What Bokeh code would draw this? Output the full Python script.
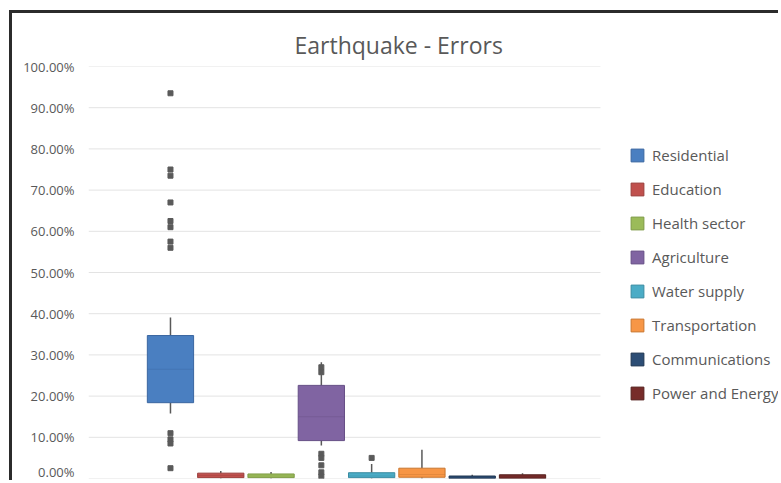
from bokeh.plotting import figure
from bokeh.models import (Range1d, Legend, LegendItem, NumeralTickFormatter,
                          FixedTicker, ColumnDataSource)
from bokeh.embed import file_html
from bokeh.resources import INLINE

# ---- data (fractions) ----
categories = ["Residential", "Education", "Health sector", "Agriculture",
              "Water supply", "Transportation", "Communications", "Power and Energy"]
colors = ["#4A7FC1", "#C0504D", "#9BBB59", "#8064A2",
          "#4BACC6", "#F79646", "#2C4D75", "#772C2A"]
edge_colors = ["#3A66A0", "#9A3E3B", "#7D9A45", "#654E85",
               "#3A8BA1", "#C9762F", "#1E3550", "#55201E"]
lower_whisker = [0.158, 0.000, 0.000, 0.080, 0.000, 0.000, 0.000, 0.000]
q1 = [0.184, 0.002, 0.002, 0.092, 0.002, 0.003, 0.000, 0.000]
median = [0.265, 0.007, 0.006, 0.150, 0.006, 0.010, 0.002, 0.003]
q3 = [0.347, 0.013, 0.011, 0.226, 0.014, 0.025, 0.006, 0.009]
upper_whisker = [0.391, 0.018, 0.016, 0.282, 0.035, 0.070, 0.009, 0.013]
outliers = {
    "Residential": [0.935, 0.750, 0.735, 0.670, 0.625, 0.610, 0.575, 0.560,
                    0.110, 0.095, 0.085, 0.025],
    "Education": [],
    "Health sector": [],
    "Agriculture": [0.270, 0.258, 0.060, 0.050, 0.032, 0.015, 0.005],
    "Water supply": [0.050],
    "Transportation": [],
    "Communications": [],
    "Power and Energy": [],
}
y_ticks = [0.0, 0.1, 0.2, 0.3, 0.4, 0.5, 0.6, 0.7, 0.8, 0.9, 1.0]

FONT = "Open Sans"
TEXT = "#595959"

xs = list(range(len(categories)))
x_lo, x_hi = -1.63, len(categories) + 0.55     # plot-area extent (in category slots)

p = figure(x_range=Range1d(x_lo, 12.09), y_range=Range1d(0, 1.0),
           width=769, height=470,
           min_border_left=76, min_border_bottom=5, min_border_top=53, min_border_right=3,
           output_backend="svg", toolbar_location=None,
           title="Earthquake - Errors")
p.styles = {"margin-left": "9px", "margin-top": "10px",
            "border-top": "3px solid #2b2b2b", "border-left": "3px solid #2b2b2b"}

p.title.align = "left"
p.title.vertical_align = "top"
p.title.offset = 206
p.title.text_font = FONT
p.title.text_font_size = "23px"
p.title.text_font_style = "normal"
p.title.text_color = TEXT
p.title.standoff = 8

p.background_fill_color = "white"
p.border_fill_color = "white"
p.outline_line_color = None

p.xaxis.visible = False
p.xgrid.visible = False
p.ygrid.visible = False

p.yaxis.ticker = FixedTicker(ticks=y_ticks)
p.yaxis.formatter = NumeralTickFormatter(format="0.00%")
p.yaxis.axis_line_color = None
p.yaxis.major_tick_line_color = None
p.yaxis.minor_tick_line_color = None
p.yaxis.major_label_text_font = FONT
p.yaxis.major_label_text_font_size = "13px"
p.yaxis.major_label_text_color = TEXT
p.yaxis.major_label_standoff = 8

# horizontal gridlines limited to the plot area
p.segment(x0=[x_lo] * len(y_ticks), x1=[x_hi] * len(y_ticks), y0=y_ticks, y1=y_ticks,
          line_color="#e3e3e3", line_width=1)

src = ColumnDataSource(dict(x=xs, cat=categories, color=colors, edge=edge_colors,
                            lw=lower_whisker, q1=q1, med=median, q3=q3, uw=upper_whisker))

# whiskers
p.segment(x0="x", y0="q3", x1="x", y1="uw", source=src, line_color="#595959", line_width=1.5)
p.segment(x0="x", y0="lw", x1="x", y1="q1", source=src, line_color="#595959", line_width=1.5)
# boxes
boxes = p.vbar(x="x", top="q3", bottom="q1", width=0.92, source=src,
               fill_color="color", line_color="edge", line_width=1)
# medians
p.rect(x="x", y="med", width=0.92, height=1, height_units="screen", source=src,
       fill_color="edge", line_color=None, fill_alpha=0.4)

# outliers
ox, oy = [], []
for i, c in enumerate(categories):
    for v in outliers[c]:
        ox.append(i)
        oy.append(v)
p.scatter(x=ox, y=oy, marker="square", size=5, fill_color="#5a5a5a", line_color="#5a5a5a")

items = [LegendItem(label=c, renderers=[boxes], index=i) for i, c in enumerate(categories)]
legend = Legend(items=items, location=(541, 75), border_line_color=None,
                background_fill_alpha=0,
                label_text_font=FONT, label_text_font_size="15px",
                label_text_color=TEXT, glyph_width=16, glyph_height=16,
                label_height=16, spacing=14, margin=0, padding=3, label_standoff=7)
p.add_layout(legend, "center")

open("out.html", "w").write(file_html(p, INLINE))
